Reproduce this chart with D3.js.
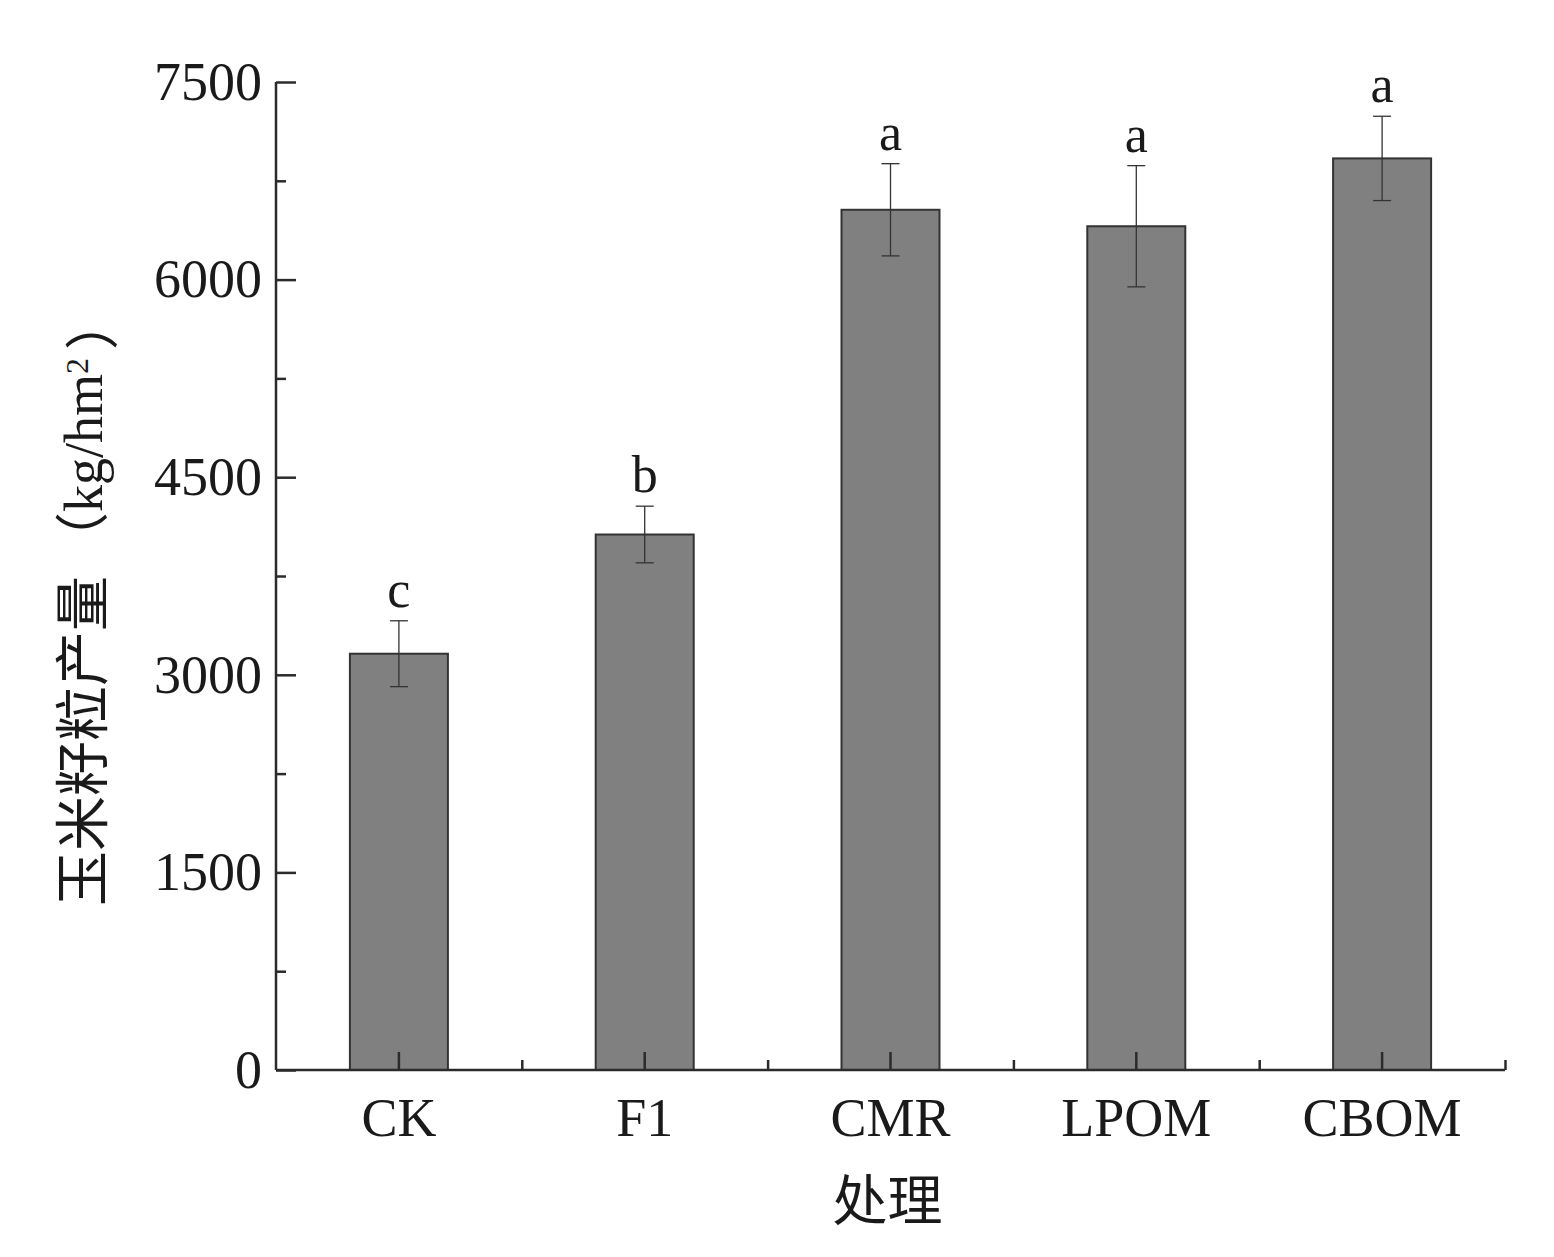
<!DOCTYPE html>
<html>
<head>
<meta charset="utf-8">
<script src="https://cdn.jsdelivr.net/npm/d3@7"></script>
<style>
  body { margin: 0; background: #fff; }
  text { fill: #1a1a1a; }
</style>
</head>
<body>
<div id="chart"></div>
<script>
// data
const categories = ["CK", "F1", "CMR", "LPOM", "CBOM"];
const yields = [3160, 4065, 6530, 6405, 6920];
const errors = [250, 215, 350, 460, 320];
const letters = ["c", "b", "a", "a", "a"];
const yTicks = [0, 1500, 3000, 4500, 6000, 7500];

const W = 1554, H = 1257;
const margin = {top: 82, right: 49, bottom: 187, left: 276};
const width = W - margin.left - margin.right,
      height = H - margin.top - margin.bottom;

const svg = d3.select("#chart")
  .append("svg")
  .attr("width", W)
  .attr("height", H)
  .append("g")
  .attr("transform", `translate(${margin.left},${margin.top})`);

const serif = "'Liberation Serif', 'Times New Roman', 'Noto Sans CJK SC', serif";
const cjk = "'Noto Sans CJK SC', sans-serif";
const axisColor = "#2b2b2b";

// scales
const x = d3.scaleBand()
  .domain(categories)
  .range([0, width])
  .paddingInner(0)
  .paddingOuter(0);

const y = d3.scaleLinear()
  .domain([0, 7500])
  .range([height, 0]);

// bars
svg.selectAll(".bar")
  .data(categories)
  .join("rect")
  .attr("class", "bar")
  .attr("x", d => x(d) + x.bandwidth() / 2 - 49)
  .attr("y", (d, i) => y(yields[i]))
  .attr("width", 98)
  .attr("height", (d, i) => height - y(yields[i]))
  .attr("fill", "#808080")
  .attr("stroke", "#333")
  .attr("stroke-width", 2);

// error bars
const eb = svg.selectAll(".err")
  .data(categories)
  .join("g")
  .attr("class", "err")
  .attr("stroke", "#333")
  .attr("stroke-width", 1.3);
eb.append("line")
  .attr("x1", d => x(d) + x.bandwidth() / 2)
  .attr("x2", d => x(d) + x.bandwidth() / 2)
  .attr("y1", (d, i) => y(yields[i] + errors[i]))
  .attr("y2", (d, i) => y(yields[i] - errors[i]));
eb.append("line")
  .attr("x1", d => x(d) + x.bandwidth() / 2 - 9)
  .attr("x2", d => x(d) + x.bandwidth() / 2 + 9)
  .attr("y1", (d, i) => y(yields[i] + errors[i]))
  .attr("y2", (d, i) => y(yields[i] + errors[i]));
eb.append("line")
  .attr("x1", d => x(d) + x.bandwidth() / 2 - 9)
  .attr("x2", d => x(d) + x.bandwidth() / 2 + 9)
  .attr("y1", (d, i) => y(yields[i] - errors[i]))
  .attr("y2", (d, i) => y(yields[i] - errors[i]));

// significance letters
svg.selectAll(".sig")
  .data(categories)
  .join("text")
  .attr("class", "sig")
  .attr("x", d => x(d) + x.bandwidth() / 2)
  .attr("y", (d, i) => y(yields[i] + errors[i]) - 14)
  .attr("text-anchor", "middle")
  .style("font-family", serif)
  .style("font-size", "52px")
  .text((d, i) => letters[i]);

// y axis: major ticks inward with labels, minor ticks between
const yAxis = svg.append("g")
  .call(d3.axisLeft(y).tickValues(yTicks).tickSize(-20).tickPadding(14).tickFormat(d3.format("d")));
yAxis.select(".domain").attr("d", `M0,${height}V0`);
const yMinor = svg.append("g")
  .call(d3.axisLeft(y).tickValues(d3.range(750, 7500, 1500)).tickSize(-10).tickFormat(""));
yMinor.select(".domain").remove();

// x axis: major ticks at bar centres, minor at category borders
const xAxis = svg.append("g")
  .attr("transform", `translate(0,${height})`)
  .call(d3.axisBottom(x).tickSize(-18).tickPadding(28));
xAxis.select(".domain").attr("d", `M0,0H${width}`);
const xMinor = svg.append("g")
  .attr("transform", `translate(0,${height})`)
  .call(d3.axisBottom(d3.scaleLinear().domain([0, categories.length]).range([0, width]))
    .tickValues(d3.range(1, categories.length + 1)).tickSize(-10).tickFormat(""));
xMinor.select(".domain").remove();

[yAxis, yMinor, xAxis, xMinor].forEach(a => {
  a.selectAll(".domain").attr("stroke", axisColor).attr("stroke-width", 2.5);
  a.selectAll("line").attr("stroke", axisColor).attr("stroke-width", 2.5);
  a.selectAll("text")
    .style("font-family", serif)
    .style("font-size", "54px")
    .attr("fill", "#1a1a1a");
});
xAxis.selectAll("text").attr("dy", "0.71em");

// axis titles
svg.append("text")
  .attr("x", width / 2 - 3)
  .attr("y", height + 150)
  .attr("text-anchor", "middle")
  .style("font-family", cjk)
  .style("font-size", "55px")
  .text("处理");

const yTitle = svg.append("text")
  .attr("transform", `translate(${-174},${height - 164}) rotate(-90)`)
  .attr("text-anchor", "start")
  .style("font-family", serif)
  .style("font-size", "54px");
yTitle.append("tspan").style("font-family", cjk).style("font-size", "55px").text("玉米籽粒产量");
yTitle.append("tspan").attr("dx", 10).style("font-family", cjk).text("（");
yTitle.append("tspan").text("kg/hm");
yTitle.append("tspan").attr("dy", "-0.45em").style("font-size", "32px").text("2");
yTitle.append("tspan").attr("dx", 8).attr("dy", "0.45em").style("font-family", cjk).text("）");
</script>
</body>
</html>
